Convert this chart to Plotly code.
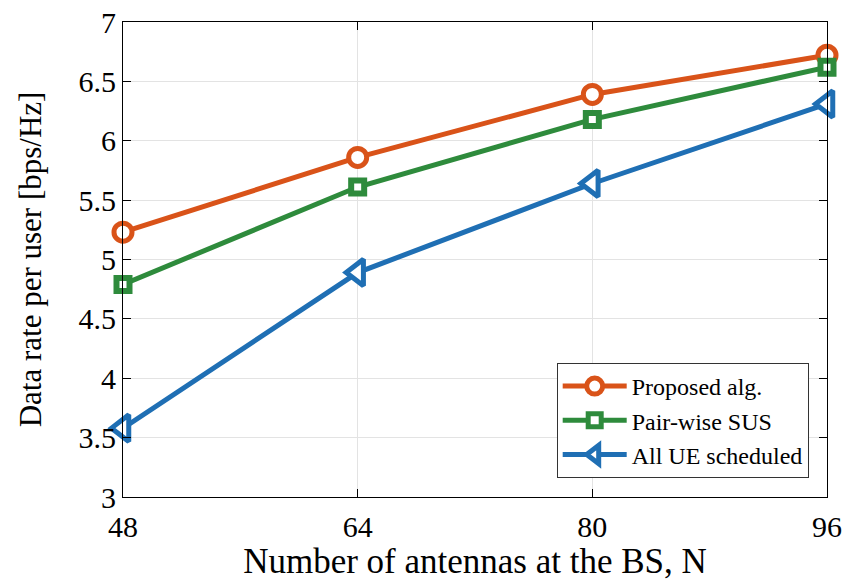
import plotly.graph_objects as go

# Number of base-station antennas
antennas = [48, 64, 80, 96]

# Per-user data rate [bps/Hz] for each scheduling scheme
proposed = [5.23, 5.86, 6.39, 6.72]
pairwise_sus = [4.79, 5.61, 6.18, 6.62]
all_ue = [3.58, 4.89, 5.64, 6.31]

y_ticks = [3, 3.5, 4, 4.5, 5, 5.5, 6, 6.5, 7]

FONT = "Liberation Serif, Times New Roman, serif"

series = [
    ("Proposed alg.", proposed, "#D95319", "circle", 18, 5),
    ("Pair-wise SUS", pairwise_sus, "#2E8B3C", "square", 13, 6),
    ("All UE scheduled", all_ue, "#1F6FB4", "triangle-left", 23, 5),
]

fig = go.Figure()
for name, vals, color, symbol, size, mlw in series:
    fig.add_trace(go.Scatter(
        x=antennas, y=vals, name=name, mode="lines+markers",
        line=dict(color=color, width=5),
        marker=dict(symbol=symbol, size=size, color="white",
                    line=dict(color=color, width=mlw)),
        cliponaxis=False,
    ))

axis_common = dict(
    showline=True, linecolor="black", linewidth=1, mirror="ticks",
    ticks="inside", ticklen=8, tickcolor="black",
    showgrid=True, gridcolor="#e3e3e3", gridwidth=1,
    zeroline=False, automargin=False,
    tickfont=dict(family=FONT, size=30, color="black"),
)

fig.update_layout(
    width=845, height=581,
    margin=dict(l=123, r=18, t=22, b=84),
    paper_bgcolor="white", plot_bgcolor="white",
    font=dict(family=FONT, color="black"),
    xaxis=dict(
        range=[48, 96], tickvals=antennas, ticklabelstandoff=3,
        title=dict(text="Number of antennas at the BS, N",
                   font=dict(family=FONT, size=35), standoff=4),
        **axis_common,
    ),
    yaxis=dict(
        range=[3, 7], tickvals=y_ticks,
        ticktext=[f"{v:g}" for v in y_ticks],
        title=dict(text="Data rate per user [bps/Hz]",
                   font=dict(family=FONT, size=31), standoff=27),
        **axis_common,
    ),
    legend=dict(
        x=0.974, y=0.04, xanchor="right", yanchor="bottom",
        bgcolor="white", bordercolor="#333333", borderwidth=1,
        font=dict(family=FONT, size=24, color="black"),
        itemwidth=64, tracegroupgap=0,
    ),
    showlegend=True,
)

fig.write_html("out.html")
